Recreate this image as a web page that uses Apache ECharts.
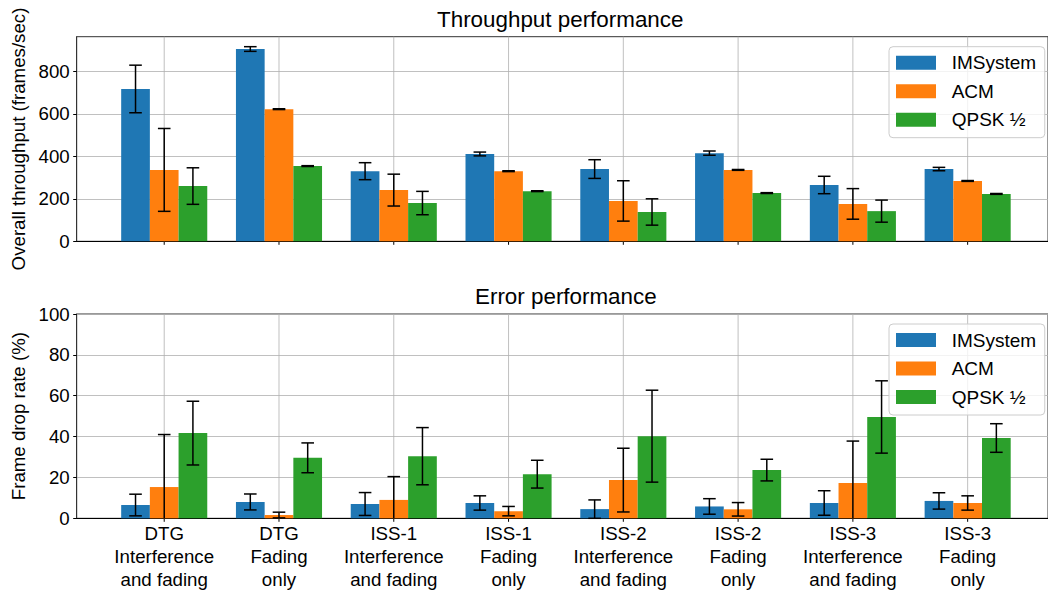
<!DOCTYPE html>
<html><head><meta charset="utf-8">
<script src="https://cdn.jsdelivr.net/npm/echarts@6/dist/echarts.min.js"></script>
<style>html,body{margin:0;padding:0;background:#fff}#c{width:1048px;height:592px}</style>
</head><body><div id="c"></div>
<script>
const categories = [
  'DTG\nInterference\nand fading', 'DTG\nFading\nonly',
  'ISS-1\nInterference\nand fading', 'ISS-1\nFading\nonly',
  'ISS-2\nInterference\nand fading', 'ISS-2\nFading\nonly',
  'ISS-3\nInterference\nand fading', 'ISS-3\nFading\nonly'
];
const seriesNames = ['IMSystem', 'ACM', 'QPSK \u00bd'];
const seriesColors = ['#1f77b4', '#ff7f0e', '#2ca02c'];

const thrIMS = [717, 905, 330, 411, 340, 415, 265, 340];
const thrIMSErr = [112, 11, 40, 9, 44, 10, 41, 8];
const thrACM = [336, 622, 241, 330, 190, 336, 176, 284];
const thrACMErr = [195, 2, 75, 2, 95, 2, 72, 2];
const thrQPSK = [260, 354, 180, 236, 138, 227, 142, 223];
const thrQPSKErr = [86, 2, 55, 2, 62, 2, 52, 2];

const fdrIMS = [6.5, 8, 7, 7.5, 4.5, 5.8, 7.5, 8.5];
const fdrIMSErr = [5.3, 3.9, 5.6, 3.5, 4.5, 3.8, 6, 4];
const fdrACM = [15.3, 1.6, 9, 3.5, 18.7, 4.4, 17.3, 7.5];
const fdrACMErr = [25.7, 1.4, 11.4, 2.3, 15.6, 3.3, 20.5, 3.5];
const fdrQPSK = [41.7, 29.6, 30.4, 21.6, 40.2, 23.6, 49.6, 39.3];
const fdrQPSKErr = [15.6, 7.3, 14, 6.8, 22.5, 5.3, 17.7, 7];

const thrTicks = [0, 200, 400, 600, 800];

const FONT = '"Liberation Sans", Arial, Helvetica, sans-serif';
const FS = 18.7;
const BAR_W = 0.25;
const offsets = [-0.25, 0, 0.25];

function barRender(sIdx) {
  return function (params, api) {
    const x = api.value(0), v = api.value(1), e = api.value(2);
    const xc = x + offsets[sIdx];
    const p0 = api.coord([xc - BAR_W / 2, v]);
    const p1 = api.coord([xc + BAR_W / 2, 0]);
    const cx = api.coord([xc, 0])[0];
    const yTop = api.coord([xc, v + e])[1];
    const lo = v - e;
    const yBot = api.coord([xc, Math.max(lo, 0)])[1];
    const es = { stroke: '#000', lineWidth: 1.5 };
    const ch = 6.3;
    const children = [
      { type: 'rect', shape: { x: p0[0], y: p0[1], width: p1[0] - p0[0], height: p1[1] - p0[1] },
        style: { fill: seriesColors[sIdx] } },
      { type: 'line', shape: { x1: cx, y1: yTop, x2: cx, y2: yBot }, style: es },
      { type: 'line', shape: { x1: cx - ch, y1: yTop, x2: cx + ch, y2: yTop }, style: es }
    ];
    if (lo >= 0) children.push({ type: 'line', shape: { x1: cx - ch, y1: yBot, x2: cx + ch, y2: yBot }, style: es });
    return { type: 'group', children };
  };
}

function gridRender(withLabels) {
  return function (params, api) {
    const i = api.value(0);
    const cs = params.coordSys;
    const cx = api.coord([i, 0])[0];
    const bottom = cs.y + cs.height;
    const children = [
      { type: 'line', shape: { x1: cx, y1: cs.y, x2: cx, y2: bottom }, style: { stroke: '#b0b0b0', lineWidth: 0.8 } },
      { type: 'line', shape: { x1: cx, y1: bottom, x2: cx, y2: bottom + 3.5 }, style: { stroke: '#000', lineWidth: 1 } }
    ];
    if (withLabels) {
      children.push({ type: 'text', x: cx, y: bottom + 3.8,
        style: { text: categories[i], fontSize: FS, fontFamily: FONT, fill: '#000', align: 'center', verticalAlign: 'top', lineHeight: 23 } });
    }
    return { type: 'group', children };
  };
}

function mk(vals, errs) { return categories.map((c, i) => [i, vals[i], errs[i]]); }

const thrData = [mk(thrIMS, thrIMSErr), mk(thrACM, thrACMErr), mk(thrQPSK, thrQPSKErr)];
const fdrData = [mk(fdrIMS, fdrIMSErr), mk(fdrACM, fdrACMErr), mk(fdrQPSK, fdrQPSKErr)];

const series = [];
[0, 1].forEach(g => {
  series.push({ type: 'custom', name: 'grid' + g, xAxisIndex: g, yAxisIndex: g, silent: true, z: 1,
    data: categories.map((c, i) => [i]), renderItem: gridRender(g === 1) });
  const dataSet = g === 0 ? thrData : fdrData;
  seriesNames.forEach((n, s) => {
    series.push({ type: 'custom', name: n, xAxisIndex: g, yAxisIndex: g, z: 3,
      itemStyle: { color: seriesColors[s] },
      data: dataSet[s], renderItem: barRender(s) });
  });
});

function xAx(g) {
  return { gridIndex: g, type: 'value', min: -0.7625, max: 7.7,
    axisLine: { show: true, onZero: false, lineStyle: { color: '#000', width: 1.2 } },
    axisTick: { show: false }, axisLabel: { show: false }, splitLine: { show: false } };
}
function yAx(g, max, interval, name, tickVals) {
  const ax = { gridIndex: g, type: 'value', min: 0, max: max, interval: interval,
    name: name, nameLocation: 'middle', nameGap: 44,
    nameTextStyle: { fontSize: FS, fontFamily: FONT, color: '#000' },
    axisLine: { show: true, onZero: false, lineStyle: { color: '#333', width: 1 } },
    axisTick: { show: true, length: 3.5, lineStyle: { color: '#000', width: 1 } },
    axisLabel: { fontSize: FS, fontFamily: FONT, color: '#000', margin: 7, showMaxLabel: tickVals ? false : true },
    splitLine: { show: true, lineStyle: { color: '#b0b0b0', width: 0.8 } } };
  if (tickVals) ax.axisTick.customValues = tickVals;
  return ax;
}

function legend(top) {
  return { data: seriesNames, left: 889, top: top, orient: 'vertical',
    itemWidth: 40, itemHeight: 14, itemGap: 8.5, icon: 'rect',
    padding: [6, 8.6, 8, 7],
    borderColor: '#cccccc', borderWidth: 1, borderRadius: 4, backgroundColor: 'rgba(255,255,255,0.8)',
    textStyle: { fontSize: 19, fontFamily: FONT, color: '#000', lineHeight: 20, padding: [0, 0, 0, 10.7] },
    selectedMode: false };
}

const chart = echarts.init(document.getElementById('c'), null, { renderer: 'svg' });
chart.setOption({
  animation: false,
  backgroundColor: '#fff',
  title: [
    { text: 'Throughput performance', left: 437, top: 8, padding: 0,
      textStyle: { fontSize: 22.4, fontFamily: FONT, fontWeight: 'normal', color: '#000' } },
    { text: 'Error performance', left: 475, top: 285.3, padding: 0,
      textStyle: { fontSize: 22.4, fontFamily: FONT, fontWeight: 'normal', color: '#000' } }
  ],
  legend: [legend(46.7), legend(324)],
  grid: [
    { left: 76.7, top: 36.7, width: 972, height: 204.6, show: true, borderColor: '#333', borderWidth: 1 },
    { left: 76.7, top: 314, width: 972, height: 204.3, show: true, borderColor: '#333', borderWidth: 1 }
  ],
  xAxis: [xAx(0), xAx(1)],
  yAxis: [
    yAx(0, 963, 200, 'Overall throughput (frames/sec)', thrTicks),
    yAx(1, 100, 20, 'Frame drop rate (%)', null)
  ],
  series: series
});
</script></body></html>
